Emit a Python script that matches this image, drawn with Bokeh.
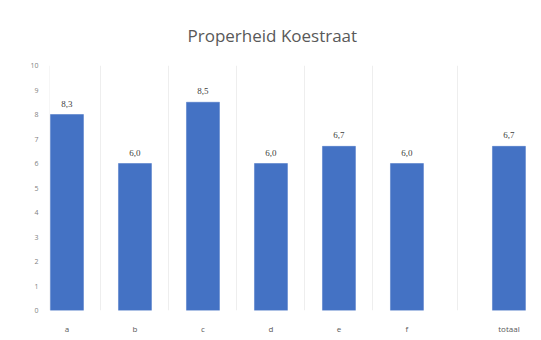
from bokeh.plotting import figure
from bokeh.models import ColumnDataSource, FixedTicker, Range1d, LabelSet
from bokeh.embed import file_html
from bokeh.resources import INLINE

categories = ["a", "b", "c", "d", "e", "f", "totaal"]
positions = [0, 1, 2, 3, 4, 5, 6.5]
values = [8.0, 6.0, 8.5, 6.0, 6.7, 6.0, 6.7]
value_labels = ["8,3", "6,0", "8,5", "6,0", "6,7", "6,0", "6,7"]
y_ticks = [0, 1, 2, 3, 4, 5, 6, 7, 8, 9, 10]
title_text = "Properheid Koestraat"

src = ColumnDataSource(dict(x=positions, top=values, lab=value_labels))

p = figure(width=540, height=338, output_backend="svg", toolbar_location=None,
           x_range=Range1d(-0.257, 6.964), y_range=Range1d(0, 10),
           min_border_left=49, min_border_right=0, min_border_top=65, min_border_bottom=28,
           title=title_text)
p.outline_line_color = None
p.background_fill_color = "white"
p.border_fill_color = "white"

p.title.align = "left"
p.title.offset = 138
p.title.standoff = 37
p.title.text_font_size = "17px"
p.title.text_font_style = "normal"
p.title.text_color = "#595959"
p.title.text_font = "Open Sans"

p.vbar(x="x", top="top", bottom=0, width=0.485, source=src,
       fill_color="#4472C4", line_color="#4472C4", line_width=0.5)

p.add_layout(LabelSet(x="x", y="top", text="lab", source=src, text_align="center",
                      text_baseline="bottom", y_offset=8, text_font_size="9px",
                      text_color="#404040", text_font="Open Sans"))

p.xaxis.ticker = FixedTicker(ticks=positions)
p.xaxis.major_label_overrides = {pos: c for pos, c in zip(positions, categories)}
p.xaxis.axis_line_color = None
p.xaxis.major_tick_line_color = None
p.xaxis.minor_tick_line_color = None
p.xaxis.major_tick_out = 0
p.xaxis.major_tick_in = 0
p.xaxis.minor_tick_out = 0
p.xaxis.major_label_standoff = 12
p.xaxis.major_label_text_font_size = "8px"
p.xaxis.major_label_text_color = "#595959"
p.xaxis.major_label_text_font = "Open Sans"

p.yaxis.ticker = FixedTicker(ticks=y_ticks)
p.yaxis.axis_line_color = None
p.yaxis.major_tick_line_color = None
p.yaxis.minor_tick_line_color = None
p.yaxis.major_tick_out = 0
p.yaxis.major_tick_in = 0
p.yaxis.minor_tick_out = 0
p.yaxis.major_label_standoff = 11
p.yaxis.major_label_text_font_size = "7px"
p.yaxis.major_label_text_color = "#7f7f7f"
p.yaxis.major_label_text_font = "Open Sans"

p.ygrid.grid_line_color = None
p.xgrid.ticker = FixedTicker(ticks=[-0.25, 0.5, 1.5, 2.5, 3.5, 4.5, 5.75])
p.xgrid.grid_line_color = "#eeeeee"
p.xgrid.grid_line_width = 1

open("out.html", "w").write(file_html(p, INLINE))
